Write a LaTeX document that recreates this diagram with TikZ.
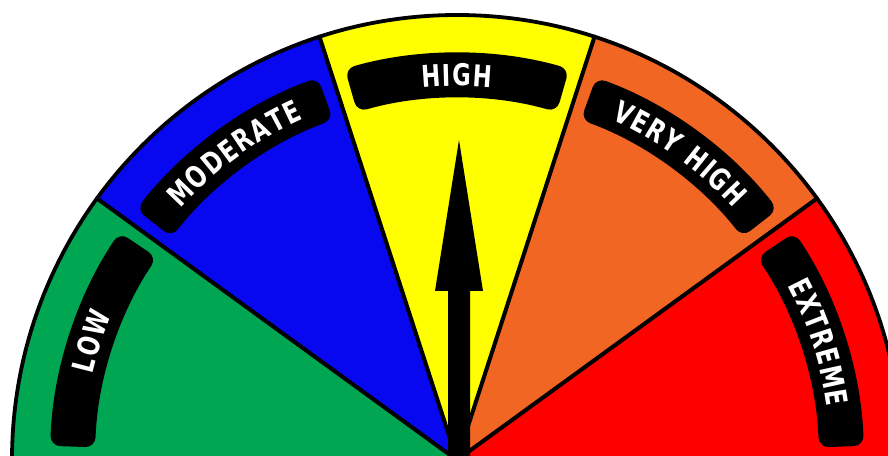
\documentclass[tikz,border=0pt]{standalone}
\usepackage{fontspec}
\newfontfamily\lab[FakeStretch=0.84]{DejaVu Sans Condensed}
\usetikzlibrary{decorations.text}
\definecolor{cgreen}{RGB}{0,166,81}
\definecolor{cblue}{RGB}{8,8,240}
\definecolor{cyellow}{RGB}{255,255,0}
\definecolor{corange}{RGB}{241,102,35}
\definecolor{cred}{RGB}{255,0,0}
\tikzset{
  sectorline/.style={line width=4pt, line cap=round},
  rimline/.style={line width=3.8pt},
  band/.style={fill=black, rounded corners=10pt},
}
\newcommand{\labfmt}{\lab\bfseries\fontsize{30}{30}\selectfont}
\newcommand{\gaugelabel}[2]{%
  \path[band] (#1+16:407) arc[start angle=#1+16, end angle=#1-16, radius=407]
     -- (#1-16:362) arc[start angle=#1-16, end angle=#1+16, radius=362] -- cycle;
  \path[decorate, decoration={text effects along path, text={#2}, text align=center,
      text effects/.cd, text along path,
      characters={text=white, font=\labfmt, inner xsep=0.8pt, inner ysep=0pt, anchor=base}}]
     (#1+28:374) arc[start angle=#1+28, end angle=#1-28, radius=374];
}
\begin{document}
\begin{tikzpicture}[x=1pt,y=1pt]
\useasboundingbox (-457,5) rectangle (431,460);
\begin{scope}
\clip (-457,5) rectangle (431,460);
% sectors
\foreach \a/\c in {144/cgreen,108/cblue,72/cyellow,36/corange,0/cred}{
  \fill[\c] (0,0) -- (\a:445) arc[start angle=\a, end angle=\a+36, radius=445] -- cycle;
}
% boundary lines
\foreach \a in {36,72,108,144}{
  \draw[sectorline] (0,0) -- (\a:445);
}
% rim
\draw[rimline] (0:445) arc[start angle=0, end angle=180, radius=445];
% label bands and texts
\gaugelabel{162}{LOW}
\gaugelabel{126}{MODERATE}
\gaugelabel{90}{HIGH}
\gaugelabel{54}{VERY HIGH}
\gaugelabel{18}{EXTREME}
% needle
\fill[black] (-9,-10) -- (-9,169) -- (-22,169) -- (2,320) -- (26,169) -- (13,169) -- (13,-10) -- cycle;
\end{scope}
\end{tikzpicture}
\end{document}
